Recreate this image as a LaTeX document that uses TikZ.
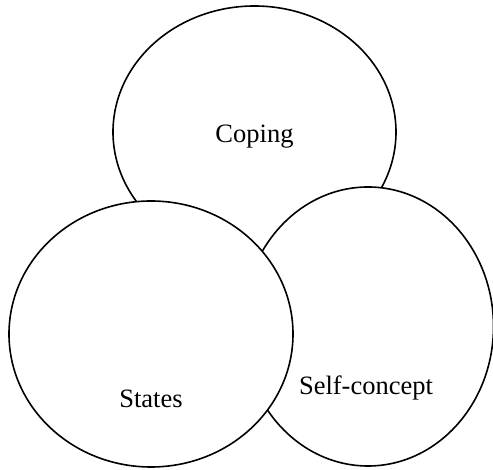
\documentclass[tikz,border=0pt]{standalone}
\usepackage{fontspec}
\setmainfont{Liberation Serif}
\usetikzlibrary{shapes.geometric}
\begin{document}
\begin{tikzpicture}[x=1pt,y=1pt,
  circ/.style={draw=black, fill=white, line width=1.6pt, ellipse, inner sep=0pt},
  lbl/.style={font=\fontsize{26.5}{30}\selectfont, inner sep=0pt}]
\useasboundingbox (0,0) rectangle (493,470);
\node[circ, minimum width=283pt, minimum height=252pt] (coping) at (254.5,338) {};
\node[circ, minimum width=251pt, minimum height=279pt] (self) at (368,143.5) {};
\node[circ, minimum width=284pt, minimum height=266pt] (states) at (151,136) {};
\node[lbl] (tcoping) at (254.5,333) {Coping};
\node[lbl] (tstates) at (151,71) {States};
\node[lbl] (tself) at (366,82) {Self-concept};
\end{tikzpicture}
\end{document}
